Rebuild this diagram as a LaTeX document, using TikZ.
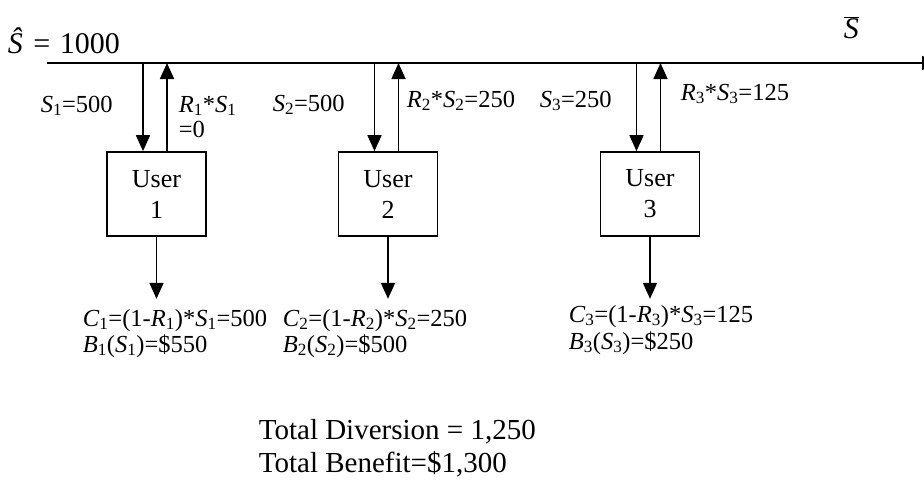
\documentclass[tikz,border=0pt]{standalone}
\usepackage{fontspec}
\setmainfont{Liberation Serif}
\usetikzlibrary{arrows.meta}
\newcommand\sbx[1]{\textsubscript{#1}}
\newcommand\iv[1]{\textit{#1}}
\begin{document}
\begin{tikzpicture}[x=1pt,y=-1pt,
  line width=1.7pt,
  arr/.style={-{Triangle[width=14pt,length=16pt]}},
  userbox/.style={draw,minimum width=99pt,minimum height=84pt,inner sep=0pt,
    align=center,font=\fontsize{26}{31}\selectfont},
  lbl/.style={anchor=base west,inner sep=0pt,font=\fontsize{24.5}{28}\selectfont},
  big/.style={anchor=base west,inner sep=0pt,font=\fontsize{30}{34}\selectfont},
  tot/.style={anchor=base west,inner sep=0pt,align=left,font=\fontsize{29}{33}\selectfont}]
\useasboundingbox (0,0) rectangle (924,482);
\clip (0,0) rectangle (924,482);
% main line
\coordinate (L) at (47,63);
\coordinate (Rt) at (938,63);
\draw[arr] (L) -- (Rt);
\node[big] (shat) at (7,53) {\iv{Ŝ}\hspace{3pt} = \hspace{2pt}1000};
\node[big] (sbar) at (843,38) {$\overline{\mbox{\iv{S}}}$};
% users
\node[userbox] (u1) at (156.5,194) {User\\1};
\node[userbox] (u2) at (388,194) {User\\2};
\node[userbox] (u3) at (650,194) {User\\3};
\foreach \u in {u1,u2,u3}{
  \draw[arr] ([xshift=-13.5pt]\u.north |- L) -- ([xshift=-13.5pt]\u.north);
  \draw[arr] ([xshift=10.5pt]\u.north) -- ([xshift=10.5pt]\u.north |- L);
  \coordinate (\u e) at ([yshift=-62pt]\u.south);
  \draw[arr] (\u.south) -- (\u e);
}
% top labels
\node[lbl] (s1) at (40,112) {\iv{S}\sbx{1}=500};
\node[lbl] (r1) at (178,112) {\iv{R}\sbx{1}*\iv{S}\sbx{1}};
\node[lbl] (r1b) at (178,137) {=0};
\node[lbl] (s2) at (272,111) {\iv{S}\sbx{2}=500};
\node[lbl] (r2) at (406,107) {\iv{R}\sbx{2}*\iv{S}\sbx{2}=250};
\node[lbl] (s3) at (539,107) {\iv{S}\sbx{3}=250};
\node[lbl] (r3) at (680,100) {\iv{R}\sbx{3}*\iv{S}\sbx{3}=125};
% bottom labels
\node[lbl] (c1) at (82,326) {\iv{C}\sbx{1}=(1-\iv{R}\sbx{1})*\iv{S}\sbx{1}=500};
\node[lbl] (b1) at (82,352) {\iv{B}\sbx{1}(\iv{S}\sbx{1})=\$550};
\node[lbl] (c2) at (282,326) {\iv{C}\sbx{2}=(1-\iv{R}\sbx{2})*\iv{S}\sbx{2}=250};
\node[lbl] (b2) at (282,352) {\iv{B}\sbx{2}(\iv{S}\sbx{2})=\$500};
\node[lbl] (c3) at (568,322) {\iv{C}\sbx{3}=(1-\iv{R}\sbx{3})*\iv{S}\sbx{3}=125};
\node[lbl] (b3) at (568,349) {\iv{B}\sbx{3}(\iv{S}\sbx{3})=\$250};
% totals
\node[tot] (t1) at (258,439) {Total Diversion = 1,250};
\node[tot] (t2) at (258,472) {Total Benefit=\$1,300};
\end{tikzpicture}
\end{document}
